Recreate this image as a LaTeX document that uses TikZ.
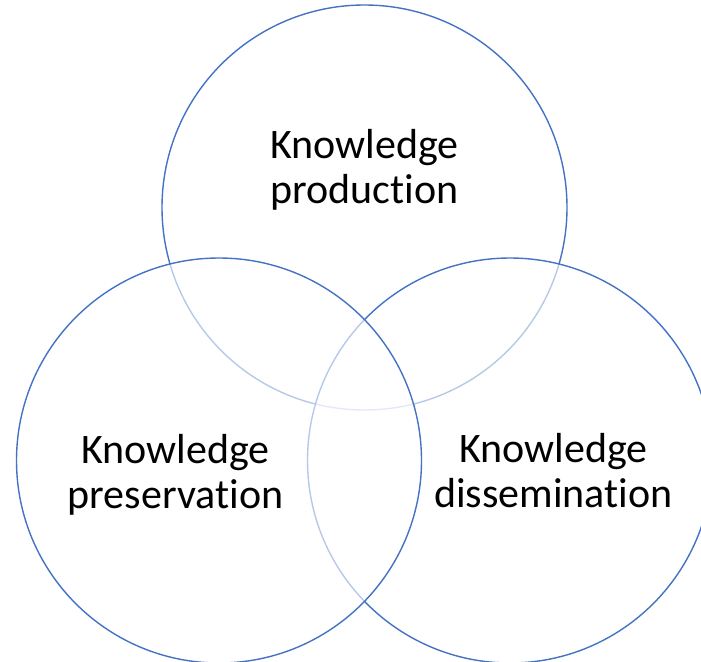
\documentclass[tikz,border=0pt]{standalone}
\usepackage{fontspec}
\setmainfont{Carlito}[RawFeature=-liga]
\definecolor{ringblue}{HTML}{4472C4}
\tikzset{
  ring/.style={circle, draw=ringblue, line width=1.4pt, fill=white, fill opacity=0.62, text opacity=1, minimum size=405pt, inner sep=0pt},
  lbl/.style={align=center, inner sep=0pt, font=\fontsize{42pt}{44.5pt}\selectfont, text=black}
}
\begin{document}
\begin{tikzpicture}[x=1pt,y=-1pt]
\useasboundingbox (0,0) rectangle (701,661);
\clip (0,0) rectangle (701,661);
\fill[white] (0,0) rectangle (701,661);
\node[ring] (prod) at (364.5,207.5) {};
\node[ring] (diss) at (510,460.5) {};
\node[ring] (pres) at (219,460.5) {};
\node[lbl] (tprod) at (364.5,170) {Knowledge\\production};
\node[lbl] (tpres) at (175.5,475) {Knowledge\\preservation};
\node[lbl] (tdiss) at (553.5,470.5) {Knowledge\\dissemination};
\end{tikzpicture}
\end{document}
